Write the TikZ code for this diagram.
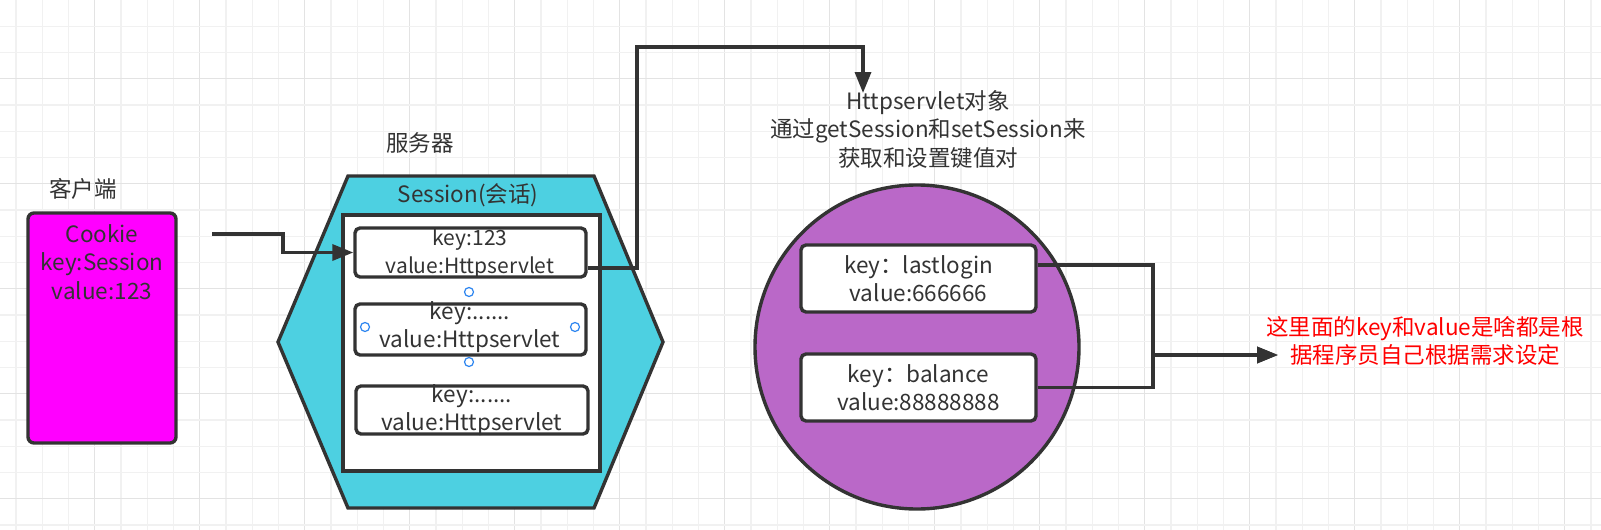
\documentclass[tikz,border=0pt]{standalone}
\usepackage{fontspec}
\setmainfont{Noto Sans CJK SC}
\usetikzlibrary{arrows.meta,calc}
\definecolor{ink}{HTML}{333333}
\definecolor{cookiefill}{HTML}{FF00FF}
\definecolor{hexfill}{HTML}{4DD0E1}
\definecolor{circfill}{HTML}{BA68C8}
\definecolor{gridminor}{HTML}{F1F1F1}
\definecolor{gridmajor}{HTML}{E3E3E3}
\definecolor{handle}{HTML}{2E86F0}
\definecolor{note}{HTML}{FF0000}
\begin{document}
\begin{tikzpicture}[x=0.5pt,y=-0.5pt,
  txt/.style={font=\fontsize{11.25}{14.25}\selectfont, text=ink, align=center, inner sep=0pt},
  smalltxt/.style={font=\fontsize{10.5}{14}\selectfont, text=ink, align=center, inner sep=0pt},
  kvbox/.style={draw=ink, line width=1.7pt, fill=white, rounded corners=2.5pt, inner sep=0pt},
  conn/.style={draw=ink, line width=1.7pt},
  tip/.style={-{Triangle[length=10.5pt,width=8pt]}},
  handlecirc/.style={circle, draw=handle, line width=0.6pt, fill=white, minimum size=4.5pt, inner sep=0pt}]
\useasboundingbox (0,0) rectangle (1601,530);
\fill[white] (0,0) rectangle (1601,530);
% grid
\foreach \i in {0,...,60} {
  \pgfmathsetmacro{\gx}{16+26.25*\i}
  \pgfmathtruncatemacro{\m}{mod(\i,4)}
  \ifnum\m=3 \draw[gridmajor, line width=0.6pt] (\gx,0) -- (\gx,530);
  \else \draw[gridminor, line width=0.6pt] (\gx,0) -- (\gx,530); \fi
}
\foreach \i in {1,...,20} {
  \pgfmathsetmacro{\gy}{26.25*\i}
  \pgfmathtruncatemacro{\m}{mod(\i,4)}
  \ifnum\m=3 \draw[gridmajor, line width=0.6pt] (0,\gy) -- (1601,\gy);
  \else \draw[gridminor, line width=0.6pt] (0,\gy) -- (1601,\gy); \fi
}

% client
\node[txt] (clientlbl) at (83,189) {客户端};
\node[draw=ink, line width=1.7pt, fill=cookiefill, rounded corners=3pt,
      minimum width=74pt, minimum height=115pt, inner sep=0pt] (cookie) at (102,328) {};
\node[txt] (cookietxt) at (102,262) {Cookie\\key:Session\\value:123};

% server
\node[txt] (serverlbl) at (420,143) {服务器};
\draw[draw=ink, line width=1.7pt, fill=hexfill, line join=miter]
  (348,176) -- (594,176) -- (663,342) -- (594,508) -- (348,508) -- (278,342) -- cycle;
\node[txt] (sessionlbl) at (468,195) {Session(会话)};
\node[draw=ink, line width=1.7pt, fill=white, minimum width=128.5pt, minimum height=128pt,
      inner sep=0pt] (inner) at (471.5,343) {};
\node[kvbox, minimum width=115.5pt, minimum height=24.5pt] (box1) at (470.5,252.5) {};
\node[kvbox, minimum width=115.5pt, minimum height=25.5pt] (box2) at (470.5,329.5) {};
\node[kvbox, minimum width=116pt, minimum height=24pt] (box3) at (472,410) {};
\node[smalltxt] (t1) at (470,253.5) {key:123\\value:Httpservlet};
\node[txt] (t2) at (470,327) {key:......\\value:Httpservlet};
\node[txt] (t3) at (472,410) {key:......\\value:Httpservlet};
\node[handlecirc] (h1) at (469,292) {};
\node[handlecirc] (h2) at (365,327) {};
\node[handlecirc] (h3) at (575,327) {};
\node[handlecirc] (h4) at (469,362) {};

% connector cookie -> box1
\coordinate (cstart) at (212,234);
\draw[conn, tip] (cstart) -- (283,234) |- (box1.west);

% connector box1 -> Httpservlet
\coordinate (htip) at (863,93);
\draw[conn, tip] ([yshift=-7.75pt]box1.east) -| (637,47) -| (htip);
\node[txt] (httptxt) at (928,129) {Httpservlet对象\\通过getSession和setSession来\\获取和设置键值对};

% circle with kv pairs
\node[circle, draw=ink, line width=1.7pt, fill=circfill, minimum size=162pt, inner sep=0pt] (circ) at (917,347) {};
\node[kvbox, txt, minimum width=117.5pt, minimum height=33.5pt] (last) at (918.5,278.5) {key：lastlogin\\value:666666};
\node[kvbox, txt, minimum width=117.5pt, minimum height=33.5pt] (bal) at (918.5,387.5) {key：balance\\value:88888888};

\coordinate (join) at (1153,355);
\coordinate (ntip) at (1278,355);
\draw[conn, tip] ([yshift=6.75pt]last.east) -| (join) -- (ntip);
\draw[conn, tip] (bal.east) -| (join) -- (ntip);
\node[txt, text=note] (notetxt) at (1425,341) {这里面的key和value是啥都是根\\据程序员自己根据需求设定};
\end{tikzpicture}
\end{document}
